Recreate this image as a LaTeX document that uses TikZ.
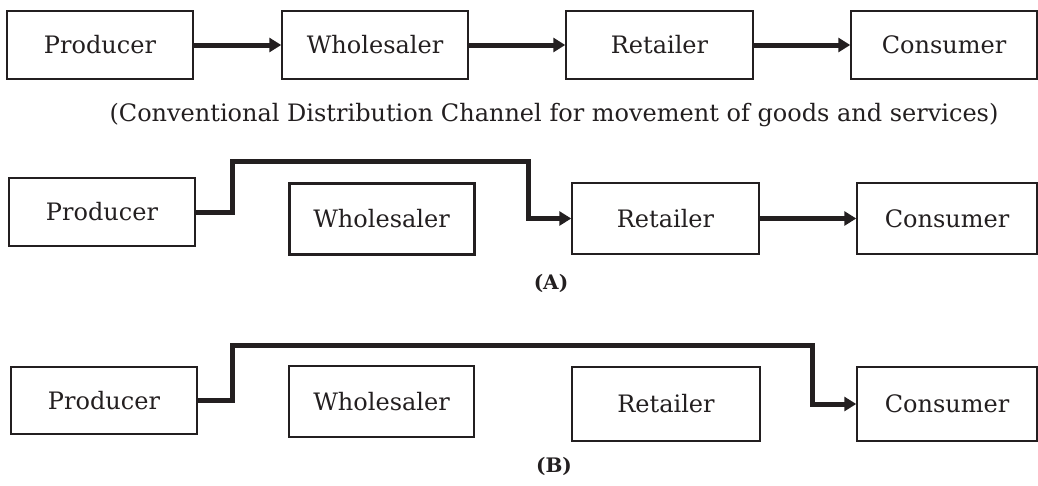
\documentclass[tikz,border=0pt]{standalone}
\usepackage{fontspec}
\setmainfont{DejaVu Serif}
\usetikzlibrary{arrows.meta}
\definecolor{ink}{HTML}{231F20}
\begin{document}
\begin{tikzpicture}[x=1pt,y=-1pt,
  box/.style={draw=ink,line width=1.5pt,inner sep=0pt,minimum width=186pt,minimum height=68pt,
    font=\fontsize{24}{29}\selectfont,text=ink},
  conn/.style={draw=ink,line width=5pt,line join=miter,
    -{Triangle[length=12pt,width=14pt]}},
  lbl/.style={font=\fontsize{20}{24}\selectfont\bfseries,text=ink}]
\useasboundingbox (0,0) rectangle (1038,485);
% row 1
\node[box] (P1) at (100,45) {Producer};
\node[box] (W1) at (375,45) {Wholesaler};
\node[box,minimum width=187pt] (R1) at (659.5,45) {Retailer};
\node[box] (C1) at (944,45) {Consumer};
\draw[conn] (P1) -- (W1);
\draw[conn] (W1) -- (R1);
\draw[conn] (R1) -- (C1);
\node[font=\fontsize{24}{29}\selectfont,text=ink] (cap) at (554,115) {(Conventional Distribution Channel for movement of goods and services)};
% row A
\node[box] (PA) at (102,212) {Producer};
\node[box,line width=3pt,minimum width=185pt,minimum height=71pt] (WA) at (381.5,218.5) {Wholesaler};
\node[box,minimum width=187pt,minimum height=71pt] (RA) at (665.5,218.5) {Retailer};
\node[box,minimum width=180pt,minimum height=71pt] (CA) at (947,218.5) {Consumer};
\coordinate (a1) at (232,161);
\coordinate (a2) at (528,161);
\draw[conn] (PA.east) -| (a1) -- (a2) |- (RA.west);
\draw[conn] (RA) -- (CA);
\node[lbl] (labA) at (551,283) {(A)};
% row B
\node[box,minimum height=67pt] (PB) at (104,400.5) {Producer};
\node[box,minimum width=185pt,minimum height=71pt] (WB) at (381.5,401.5) {Wholesaler};
\node[box,minimum width=188pt,minimum height=74pt] (RB) at (666,404) {Retailer};
\node[box,minimum width=180pt,minimum height=74pt] (CB) at (947,404) {Consumer};
\coordinate (b1) at (232,345);
\coordinate (b2) at (812,345);
\draw[conn] (PB.east) -| (b1) -- (b2) |- (CB.west);
\node[lbl] (labB) at (554,466) {(B)};
\end{tikzpicture}
\end{document}
